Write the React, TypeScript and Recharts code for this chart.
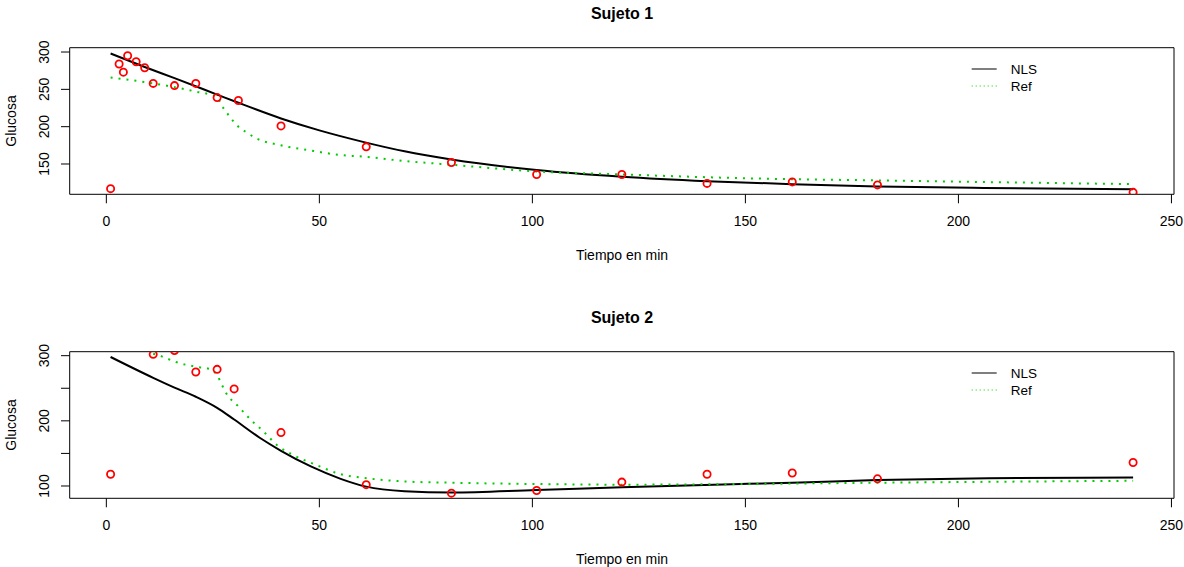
import React from 'react';
import { ComposedChart, Line, Scatter, XAxis, YAxis, ReferenceArea } from 'recharts';

// Sujeto 1: observed glucose
const s1ObsTime = [1, 3, 4, 5, 7, 9, 11, 16, 21, 26, 31, 41, 61, 81, 101, 121, 141, 161, 181, 241];
const s1ObsGlu = [117, 284, 273, 295, 287, 279, 258, 255, 258, 239, 235, 201, 173, 152, 136, 136, 124, 126, 122, 112];
// Sujeto 1: NLS fit
const s1NlsTime = [1, 9, 16, 26, 31, 41, 50, 60, 70, 81, 101, 121, 141, 161, 181, 206, 241];
const s1NlsGlu = [298, 280, 265, 243, 232, 211, 195, 180, 167, 156, 142, 133, 127, 123, 120, 118, 116];
// Sujeto 1: Ref curve
const s1RefTime = [1, 11, 16, 21, 26, 27, 28, 29, 30, 31, 33, 35, 41, 48, 55, 60, 70, 81, 101, 121, 149, 181, 241];
const s1RefGlu = [266, 258, 253, 247, 240, 229, 221, 213, 206, 200, 192, 185, 175, 168, 162, 160, 154, 149, 140, 136, 131, 128, 123];

// Sujeto 2
const s2ObsTime = [1, 11, 16, 21, 26, 30, 41, 61, 81, 101, 121, 141, 161, 181, 241];
const s2ObsGlu = [118, 302, 308, 275, 279, 249, 182, 102, 89, 93, 106, 118, 120, 111, 136];
const s2NlsTime = [1, 11, 16, 21, 26, 30, 36, 41, 48, 55, 61, 70, 81, 101, 121, 149, 161, 181, 207, 241];
const s2NlsGlu = [298, 266, 251, 237, 220, 202, 174, 154, 130, 111, 99, 92, 90, 94, 98, 103, 105, 109, 112, 113];
const s2RefTime = [11, 13, 16, 22, 24, 26, 27, 28, 31, 34, 37, 40, 44, 49, 55, 61, 70, 81, 101, 121, 149, 181, 241];
const s2RefGlu = [303, 299, 291, 282, 280, 270, 257, 244, 222, 201, 183, 163, 147, 133, 118, 112, 107, 105, 103, 102, 103, 105, 108];

const xTicks = [0, 50, 100, 150, 200, 250];
const X_DOMAIN: [number, number] = [-8.6, 250.6];

const toPoints = (t: number[], v: number[]) => t.map((x, i) => ({ t: x, v: v[i] }));

const FONT = '"Liberation Sans", Arial, Helvetica, sans-serif';
const GREEN = '#00CD00';

const Circle = (props: any) => (
  <circle cx={props.cx} cy={props.cy} r={3.6} fill="none" stroke="#FF0000" strokeWidth={1.8} />
);

const makeYTick = (labelled: number[]) => (props: any) => {
  const { y, payload } = props;
  if (!labelled.includes(payload.value)) return <g />;
  return (
    <text x={44} y={y} transform={`rotate(-90, 44, ${y})`} textAnchor="middle" dominantBaseline="central" fontSize={14} fill="#000">
      {payload.value}
    </text>
  );
};

interface PanelProps {
  title: string;
  obs: { t: number; v: number }[];
  nls: { t: number; v: number }[];
  refCurve: { t: number; v: number }[];
  yDomain: [number, number];
  yTicks: number[];
  yLabels: number[];
  top: number;
}

const Panel: React.FC<PanelProps> = ({ title, obs, nls, refCurve, yDomain, yTicks, yLabels, top }) => (
  <div style={{ position: 'absolute', left: 0, top }}>
    <ComposedChart width={1184} height={284} margin={{ top: 47.7, right: 10, bottom: 19.7, left: 0 }}>
      <XAxis
        type="number"
        dataKey="t"
        domain={X_DOMAIN}
        ticks={xTicks}
        interval={0}
        allowDataOverflow
        axisLine={false}
        tickSize={9}
        tickMargin={12.5}
        tickLine={{ stroke: '#000' }}
        tick={{ fill: '#000', fontSize: 14 }}
        height={70}
      />
      <YAxis
        type="number"
        dataKey="v"
        domain={yDomain}
        ticks={yTicks}
        interval={0}
        allowDataOverflow
        axisLine={false}
        tickSize={8.7}
        tickLine={{ stroke: '#000' }}
        tick={makeYTick(yLabels)}
        width={69.7}
      />
      <ReferenceArea x1={X_DOMAIN[0]} x2={X_DOMAIN[1]} y1={yDomain[0]} y2={yDomain[1]} fill="none" stroke="#000" strokeWidth={1} fillOpacity={0} />
      <Scatter data={obs} dataKey="v" shape={Circle} isAnimationActive={false} />
      <Line data={nls} dataKey="v" type="monotone" stroke="#000" strokeWidth={2} dot={false} activeDot={false} isAnimationActive={false} />
      <Line data={refCurve} dataKey="v" type="monotone" stroke={GREEN} strokeWidth={2} strokeDasharray="2 6" dot={false} activeDot={false} isAnimationActive={false} />
      <text x={622} y={13.3} textAnchor="middle" dominantBaseline="central" fontSize={16} fontWeight="bold" fill="#000">{title}</text>
      <text x={622} y={255} textAnchor="middle" dominantBaseline="central" fontSize={14} fill="#000">Tiempo en min</text>
      <text x={10.7} y={121} transform="rotate(-90, 10.7, 121)" textAnchor="middle" dominantBaseline="central" fontSize={14} fill="#000">Glucosa</text>
      <g>
        <line x1={971.7} x2={996.7} y1={69} y2={69} stroke="#000" strokeWidth={1} />
        <line x1={971.7} x2={996.7} y1={86} y2={86} stroke={GREEN} strokeWidth={1} strokeDasharray="1 3" />
        <text x={1010.7} y={69} dominantBaseline="central" fontSize={13.5} fill="#000">NLS</text>
        <text x={1010.7} y={86} dominantBaseline="central" fontSize={13.5} fill="#000">Ref</text>
      </g>
    </ComposedChart>
  </div>
);

export default function App() {
  return (
    <div style={{ position: 'absolute', left: 0, top: 0, width: 1184, height: 567, overflow: 'hidden', background: '#fff', fontFamily: FONT }}>
      <Panel
        title="Sujeto 1"
        obs={toPoints(s1ObsTime, s1ObsGlu)}
        nls={toPoints(s1NlsTime, s1NlsGlu)}
        refCurve={toPoints(s1RefTime, s1RefGlu)}
        yDomain={[109.4, 305.8]}
        yTicks={[150, 200, 250, 300]}
        yLabels={[150, 200, 250, 300]}
        top={0}
      />
      <Panel
        title="Sujeto 2"
        obs={toPoints(s2ObsTime, s2ObsGlu)}
        nls={toPoints(s2NlsTime, s2NlsGlu)}
        refCurve={toPoints(s2RefTime, s2RefGlu)}
        yDomain={[81.1, 306.1]}
        yTicks={[100, 150, 200, 250, 300]}
        yLabels={[100, 200, 300]}
        top={304}
      />
    </div>
  );
}
